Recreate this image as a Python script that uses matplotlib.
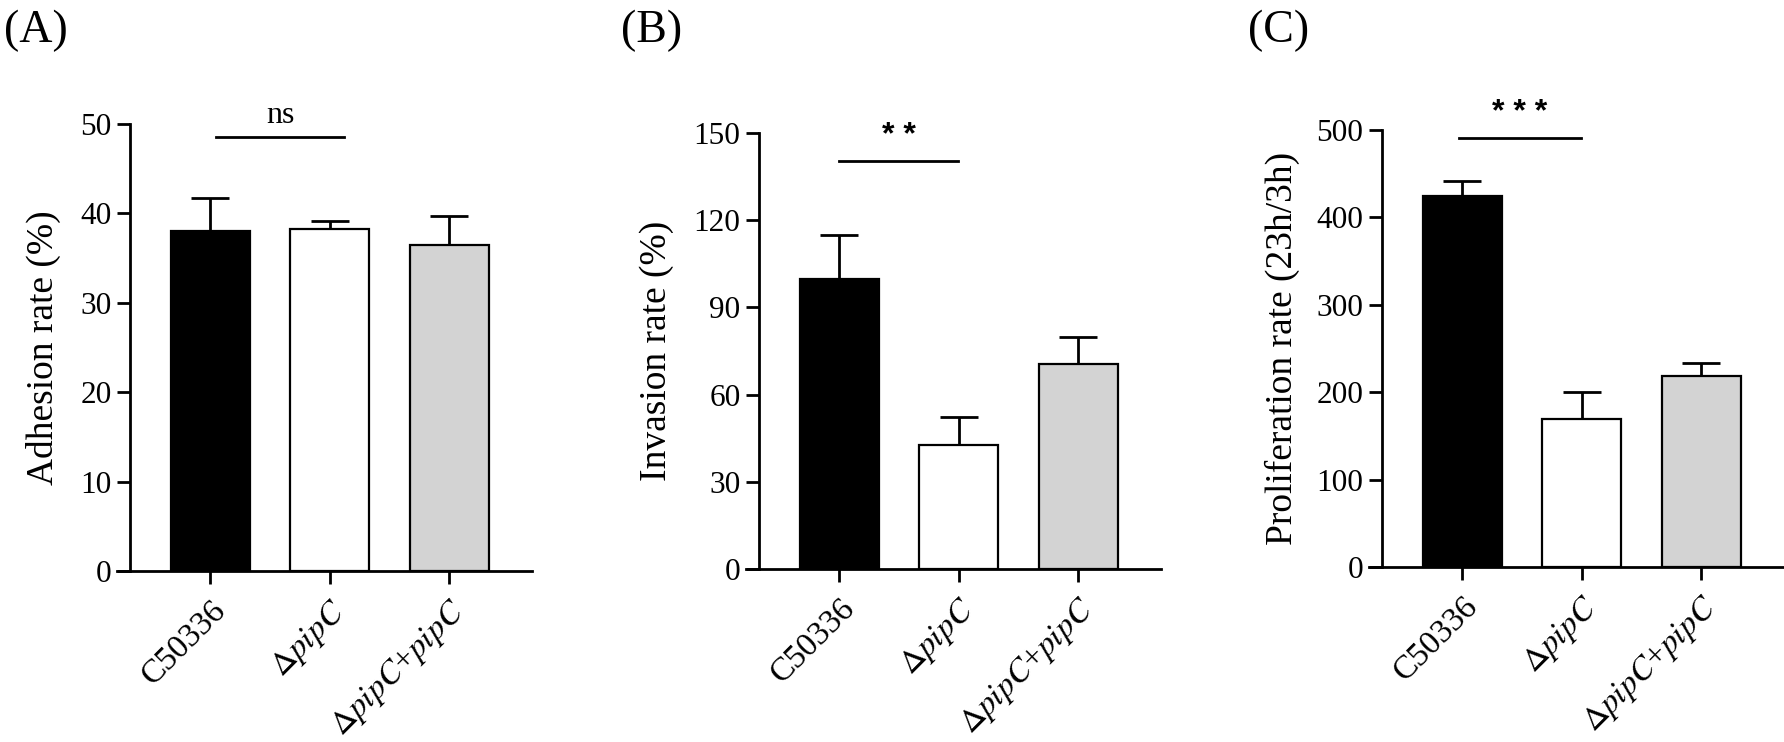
import matplotlib.pyplot as plt
import numpy as np

plt.rcParams['font.family'] = 'Liberation Serif'
plt.rcParams['mathtext.fontset'] = 'stix'

#Data
groups = ['C50336', r'$\Delta\mathit{pipC}$', r'$\Delta\mathit{pipC}$+$\mathit{pipC}$']
bar_colors = ['black', 'white', '#d3d3d3']

adhesion_mean = [38.0, 38.2, 36.5]
adhesion_sem = [3.7, 1.0, 3.2]

invasion_mean = [99.7, 42.6, 70.4]
invasion_sem = [15.1, 9.7, 9.5]

prolif_mean = [424, 169, 218]
prolif_sem = [18, 31, 15]

#Significance (pair, line height, text height, text)
adhesion_sig = [(0.05, 1.12), 48.5, 51.0, 'ns']
invasion_sig = [(0.0, 0.99), 140.5, 149.0, '**']
prolif_sig = [(-0.03, 0.99), 491, 520, '***']

#Layout settings (pixels of the 1784x742 figure)
W, H = 1784, 742
SPINE_X = -0.67
XLIM = (-0.78, 2.69)
AX_W = 415


def panel(left_px, bottom_px, top_px, means, sems, ymax, ystep, sig, letter, letter_x):
    ax = fig.add_axes([left_px / W, 1 - bottom_px / H, AX_W / W, (bottom_px - top_px) / H])
    x = np.arange(len(means))
    ax.errorbar(x, means, yerr=[np.zeros(len(sems)), sems], fmt='none', ecolor='black',
                elinewidth=2, capsize=14, capthick=2, zorder=2)
    ax.bar(x, means, width=0.66, color=bar_colors, edgecolor='black', linewidth=1.6, zorder=3)

    ax.set_xlim(*XLIM)
    ax.set_ylim(0, ymax)
    ax.set_yticks(np.arange(0, ymax + 1, ystep))
    ax.set_xticks(x)
    ax.set_xticklabels(groups, rotation=45, ha='right', rotation_mode='anchor')

    for s in ['top', 'right']:
        ax.spines[s].set_visible(False)
    ax.spines['left'].set_position(('data', SPINE_X))
    ax.spines['left'].set_linewidth(2)
    ax.spines['bottom'].set_linewidth(2)
    ax.tick_params(axis='both', length=9.5, width=2, labelsize=22.5, pad=4)
    ax.tick_params(axis='x', pad=8, labelsize=24)

    #Significance bar
    (x1, x2), yl, yt, txt = sig
    ax.plot([x1, x2], [yl, yl], color='black', lw=2, clip_on=False)
    if txt == 'ns':
        ax.text((x1 + x2) / 2, yt, txt, ha='center', va='center', fontsize=23)
    else:
        ax.text((x1 + x2) / 2, yt, ' '.join(txt), ha='center', va='center', fontsize=23,
                family='Liberation Sans', fontweight='bold', clip_on=False)

    fig.text(letter_x / W, 1 - 10 / H, letter, ha='left', va='top', fontsize=33)
    return ax


fig = plt.figure(figsize=(W / 100, H / 100), dpi=100)

ax_a = panel(117, 571, 124, adhesion_mean, adhesion_sem, 50, 10, adhesion_sig, '(A)', 4)
ax_a.set_ylabel('Adhesion rate (%)', fontsize=27, labelpad=14)

ax_b = panel(746, 569, 133, invasion_mean, invasion_sem, 150, 30, invasion_sig, '(B)', 621)
ax_b.set_ylabel('Invasion rate (%)', fontsize=27, labelpad=14)

ax_c = panel(1369, 567, 130, prolif_mean, prolif_sem, 500, 100, prolif_sig, '(C)', 1248)
ax_c.set_ylabel('Proliferation rate (23h/3h)', fontsize=27, labelpad=12)

fig.savefig('out.png', dpi=100)
